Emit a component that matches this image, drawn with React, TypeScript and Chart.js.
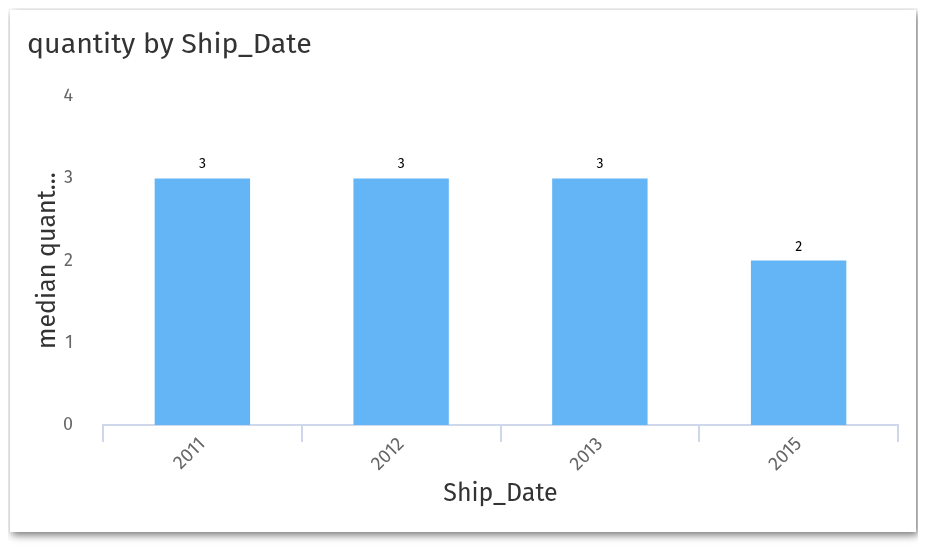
import React, { useEffect, useRef } from "react";
import { Chart, registerables } from "chart.js";

Chart.register(...registerables);

const categories = ["2011", "2012", "2013", "2015"];
const medianQuantity = [3, 3, 3, 2];
const yTicks = [0, 1, 2, 3, 4];

const FONT = "'Fira Sans', 'Open Sans', 'Noto Sans', sans-serif";

const valueLabels = {
  id: "valueLabels",
  afterDatasetsDraw(chart: any) {
    const ctx = chart.ctx;
    const meta = chart.getDatasetMeta(0);
    ctx.save();
    ctx.font = `14px ${FONT}`;
    ctx.fillStyle = "#000";
    ctx.textAlign = "center";
    ctx.textBaseline = "bottom";
    meta.data.forEach((bar: any, i: number) => {
      ctx.fillText(String(chart.data.datasets[0].data[i]), bar.x, bar.y - 7);
    });
    ctx.restore();
  },
};

export default function App() {
  const ref = useRef<HTMLCanvasElement>(null);
  useEffect(() => {
    if (!ref.current) return;
    const chart = new Chart(ref.current, {
      type: "bar",
      data: {
        labels: categories,
        datasets: [
          {
            label: "median quantity",
            data: medianQuantity,
            backgroundColor: "#64B5F6",
            borderWidth: 0,
            barPercentage: 0.48,
            categoryPercentage: 1,
          },
        ],
      },
      options: {
        animation: false,
        responsive: false,
        maintainAspectRatio: false,
        layout: { padding: { left: 17, right: 18, top: 0, bottom: 0 } },
        plugins: {
          legend: { display: false },
          tooltip: { enabled: false },
          title: {
            display: true,
            text: "quantity by Ship_Date",
            align: "start",
            color: "#333",
            font: { family: FONT, size: 28.5, weight: "normal" },
            padding: { top: 18, bottom: 34 },
          },
        },
        scales: {
          x: {
            afterFit(scale: any) {
              scale.height = 107;
            },
            grid: {
              display: true,
              offset: true,
              drawOnChartArea: false,
              drawTicks: true,
              tickLength: 17,
              color: "#cfd8ea",
              lineWidth: 2,
            },
            border: { display: true, color: "#cfd8ea", width: 2 },
            ticks: {
              color: "#666",
              font: { family: FONT, size: 19 },
              maxRotation: 45,
              minRotation: 45,
              padding: -9,
            },
            title: {
              display: true,
              text: "Ship_Date",
              color: "#333",
              font: { family: FONT, size: 25 },
              padding: { top: 2, bottom: 23 },
            },
          },
          y: {
            min: 0,
            max: 4,
            afterFit(scale: any) {
              scale.width = 76;
            },
            afterBuildTicks(scale: any) {
              scale.ticks = yTicks.map((v) => ({ value: v }));
            },
            grid: { display: false },
            border: { display: false },
            ticks: {
              color: "#666",
              font: { family: FONT, size: 18 },
              padding: 22,
            },
            title: {
              display: true,
              text: "median quant...",
              color: "#333",
              font: { family: FONT, size: 25 },
              padding: { top: 6, bottom: 0 },
            },
          },
        },
      },
      plugins: [valueLabels],
    });
    return () => chart.destroy();
  }, []);
  return (
    <div style={{ paddingLeft: 2, paddingTop: 2, paddingBottom: 14 }}>
      <div
        style={{
          width: 906,
          height: 522,
          background: "#fff",
          boxShadow: "2px 3px 8px rgba(0,0,0,0.55)",
        }}
      >
        <canvas ref={ref} width={906} height={522} style={{ display: "block" }} />
      </div>
    </div>
  );
}
